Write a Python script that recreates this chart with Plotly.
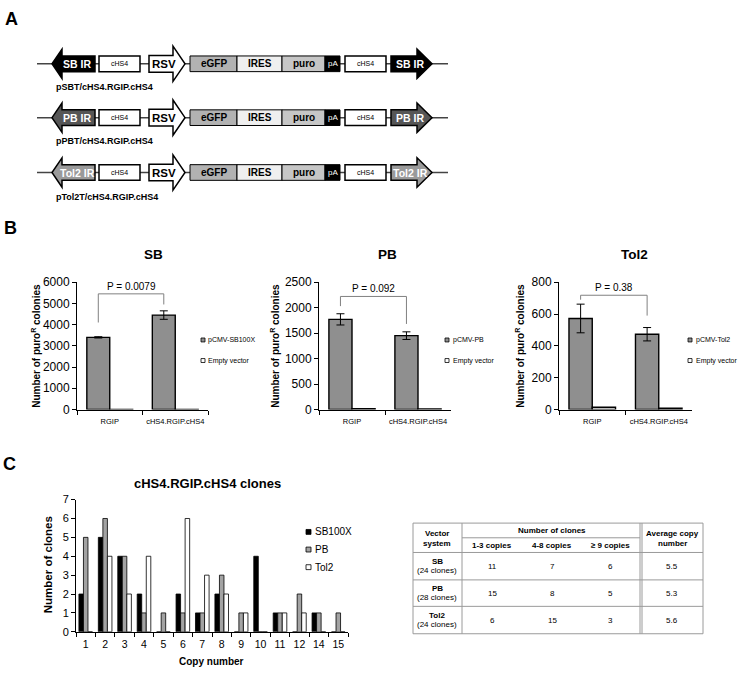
import plotly.graph_objects as go

W, H = 739, 677
FONT = "Liberation Sans, Arial, Helvetica, sans-serif"

# ---------------- data ----------------
panel_letters = ["A", "B", "C"]

# Panel A (construct maps)
construct_names = ["pSBT/cHS4.RGIP.cHS4", "pPBT/cHS4.RGIP.cHS4", "pTol2T/cHS4.RGIP.cHS4"]
ir_labels = ["SB IR", "PB IR", "Tol2 IR"]
insulator_label = "cHS4"
promoter_label = "RSV"
cassette_labels = ["eGFP", "IRES", "puro", "pA"]

# Panel B (colony counts)
b_titles = ["SB", "PB", "Tol2"]
b_categories = ["RGIP", "cHS4.RGIP.cHS4"]
b_transposase_labels = ["pCMV-SB100X", "pCMV-PB", "pCMV-Tol2"]
empty_label = "Empty vector"
sb_transposase = [3400, 4450]
sb_transposase_err = [30, 200]
sb_empty = [8, 5]
pb_transposase = [1770, 1450]
pb_transposase_err = [110, 75]
pb_empty = [15, 10]
tol2_transposase = [572, 473]
tol2_transposase_err = [90, 42]
tol2_empty = [14, 8]
p_values = ["0.0079", "0.092", "0.38"]
b_ymax = [6000, 2500, 800]
b_dtick = [1000, 500, 200]

# Panel C (copy-number distribution)
c_title = "cHS4.RGIP.cHS4 clones"
copy_numbers = ["1", "2", "3", "4", "5", "6", "7", "8", "9", "10", "11", "12", "14", "15"]
c_series_names = ["SB100X", "PB", "Tol2"]
sb100x_clones = [2, 5, 4, 2, 0, 2, 1, 2, 0, 4, 1, 0, 1, 0]
pb_clones = [5, 6, 4, 1, 1, 1, 1, 3, 1, 0, 1, 2, 1, 1]
tol2_clones = [0, 4, 2, 4, 0, 6, 3, 2, 1, 0, 1, 1, 0, 0]

# Panel C table
table_header_left = ["Vector", "system"]
table_header_mid = "Number of clones"
table_header_right = ["Average copy", "number"]
table_systems = ["SB", "PB", "Tol2"]
table_clone_totals = ["(24 clones)", "(28 clones)", "(24 clones)"]
table_bins = ["1-3 copies", "4-8 copies", "≥ 9 copies"]
table_1_3 = [11, 15, 6]
table_4_8 = [7, 8, 15]
table_9plus = [6, 5, 3]
table_avg = [5.5, 5.3, 5.6]

# ---------------- styles / positions ----------------
BARGAP = 0.3
ir_fills = ["#000000", "#565656", "#9a9a9a"]
cassette_fills = ["#b2b2b2", "#efefef", "#c6c6c6", "#000000"]
cassette_text_colors = ["black", "black", "black", "white"]
cassette_x = [(190, 237), (237, 282), (282, 325), (325, 340)]
row_y = [58, 113, 169]
label_y = [82, 137, 194]

b_xdom = [(77, 208), (319, 451), (559, 692)]
b_ytop, b_ybot = 281, 411
b_title_x = [153, 387, 634]
b_ytitle_x = [36, 275, 520]
b_legend_x = [201, 445, 688]
b_legend_y = [340, 361]
# bracket heights (data units): left foot, right foot, top
brackets = [(4100, 4950, 5450), (2030, 1680, 2220), (690, 590, 718)]

c_xdom = (76, 348)
c_ytop, c_ybot = 503, 638
c_colors = ["#000000", "#a3a3a3", "#ffffff"]
c_legend_x = 306
c_legend_y = [536, 554, 572]


def px(x):
    return x / W


def py(y):
    return 1 - y / H


shapes = []
annotations = []


def text(x, y, s, size, color="black", bold=False, xanchor="center", yanchor="middle", angle=0):
    annotations.append(dict(
        x=px(x), y=py(y), xref="paper", yref="paper",
        text=f"<b>{s}</b>" if bold else s, showarrow=False,
        font=dict(size=size, color=color, family=FONT),
        xanchor=xanchor, yanchor=yanchor, textangle=angle))


def rect(x0, x1, y0, y1, fill, line="black", lw=1.5):
    shapes.append(dict(type="rect", xref="paper", yref="paper",
                       x0=px(x0), x1=px(x1), y0=py(y1), y1=py(y0),
                       fillcolor=fill, line=dict(color=line, width=lw)))


def seg(x0, y0, x1, y1, color="black", lw=1):
    shapes.append(dict(type="line", xref="paper", yref="paper",
                       x0=px(x0), x1=px(x1), y0=py(y0), y1=py(y1),
                       line=dict(color=color, width=lw)))


def arrow(base, neck, tip, yc, bh, hh, fill, lw=1.5):
    pts = [(base, yc - bh), (neck, yc - bh), (neck, yc - hh), (tip, yc),
           (neck, yc + hh), (neck, yc + bh), (base, yc + bh)]
    path = "M " + " L ".join(f"{px(a):.5f},{py(b):.5f}" for a, b in pts) + " Z"
    shapes.append(dict(type="path", xref="paper", yref="paper", path=path,
                       fillcolor=fill, line=dict(color="black", width=lw)))


# ---------------- panel letters ----------------
for letter, (lx, ly) in zip(panel_letters, [(11, 12), (10, 226), (9, 467)]):
    text(lx, ly, letter, 18, bold=True)

# ---------------- panel A ----------------
for i in range(3):
    yc = row_y[i]
    seg(37, yc, 448, yc, "#444444", 1.5)
    arrow(95, 62, 52, yc, 8, 15, ir_fills[i])
    text(77, yc, ir_labels[i], 10.5, "white", bold=True)
    rect(99, 140, yc - 8, yc + 8, "white")
    text(119.5, yc, insulator_label, 7)
    arrow(149, 173, 185, yc, 8.5, 18, "white")
    text(164, yc, promoter_label, 11.5, bold=True)
    for (x0, x1), lab, fill, tc in zip(cassette_x, cassette_labels, cassette_fills, cassette_text_colors):
        rect(x0, x1, yc - 8, yc + 8, fill, lw=1)
        text((x0 + x1) / 2, yc, lab, 10 if lab != "pA" else 8, tc, bold=(lab != "pA"))
    rect(345, 386, yc - 8, yc + 8, "white")
    text(365.5, yc, insulator_label, 7)
    arrow(391, 417, 432, yc, 8, 15, ir_fills[i])
    text(410, yc, ir_labels[i], 10.5, "white", bold=True)
    text(54, label_y[i], construct_names[i], 9, bold=True, xanchor="left")

# ---------------- panel B ----------------
fig = go.Figure()
b_sets = [(sb_transposase, sb_transposase_err, sb_empty),
          (pb_transposase, pb_transposase_err, pb_empty),
          (tol2_transposase, tol2_transposase_err, tol2_empty)]
axis_ids = ["", "2", "3"]
layout_axes = {}
pcmv_offset = -(1 - BARGAP) / 4

for k, (vals, errs, empt) in enumerate(b_sets):
    ax = axis_ids[k]
    fig.add_trace(go.Bar(
        x=b_categories, y=vals, name=b_transposase_labels[k],
        error_y=dict(type="data", array=errs, color="black", thickness=1, width=4),
        marker=dict(color="#8f8f8f", line=dict(color="black", width=1.4)),
        xaxis="x" + ax, yaxis="y" + ax, showlegend=False))
    fig.add_trace(go.Bar(
        x=b_categories, y=empt, name=empty_label,
        marker=dict(color="white", line=dict(color="black", width=1.4)),
        xaxis="x" + ax, yaxis="y" + ax, showlegend=False))
    x0, x1 = b_xdom[k]
    layout_axes["xaxis" + ax] = dict(
        domain=[px(x0), px(x1)], anchor="y" + ax, type="category", range=[-0.5, 1.5],
        showline=True, linecolor="black", linewidth=1, ticks="outside", tickson="boundaries",
        ticklen=4, tickcolor="black", tickangle=0, ticklabelstandoff=4,
        tickfont=dict(size=7.5, family=FONT, color="black"),
        showgrid=False, zeroline=False)
    layout_axes["yaxis" + ax] = dict(
        domain=[py(b_ybot), py(b_ytop)], anchor="x" + ax, range=[0, b_ymax[k]], dtick=b_dtick[k],
        showline=True, linecolor="black", linewidth=1, ticks="outside", ticklen=4, tickcolor="black",
        tickfont=dict(size=12, family=FONT, color="black"), showgrid=False, zeroline=False)
    text(b_title_x[k], 253, b_titles[k], 13.5, bold=True)
    text(b_ytitle_x[k], 346, "Number of puro<sup>R</sup> colonies", 10, bold=True, angle=-90)
    lf, rf, top = brackets[k]
    xl, xr = 0 + pcmv_offset, 1 + pcmv_offset
    for (ax0, ay0, ax1, ay1) in [(xl, lf, xl, top), (xl, top, xr, top), (xr, top, xr, rf)]:
        shapes.append(dict(type="line", xref="x" + ax, yref="y" + ax, x0=ax0, y0=ay0, x1=ax1, y1=ay1,
                           line=dict(color="#808080", width=1)))
    annotations.append(dict(x=0.5 + pcmv_offset, y=top, xref="x" + ax, yref="y" + ax,
                            text="P = " + p_values[k], showarrow=False, yanchor="bottom", yshift=0,
                            font=dict(size=10, family=FONT, color="black")))
    lx = b_legend_x[k]
    for lab, fill, ly in zip([b_transposase_labels[k], empty_label], ["#8f8f8f", "white"], b_legend_y):
        rect(lx, lx + 4, ly - 2, ly + 2, fill, lw=0.8)
        text(lx + 5.5, ly, lab, 7, xanchor="left")

# ---------------- panel C ----------------
for name, vals, col in zip(c_series_names, [sb100x_clones, pb_clones, tol2_clones], c_colors):
    fig.add_trace(go.Bar(x=copy_numbers, y=vals, name=name,
                         marker=dict(color=col, line=dict(color="black", width=0.8)),
                         xaxis="x4", yaxis="y4", showlegend=False))
layout_axes["xaxis4"] = dict(
    domain=[px(c_xdom[0]), px(c_xdom[1])], anchor="y4", type="category",
    range=[-0.5, len(copy_numbers) - 0.5],
    showline=True, linecolor="black", linewidth=1, ticks="outside", tickson="boundaries",
    ticklen=4, tickcolor="black", tickangle=0, ticklabelstandoff=3,
    tickfont=dict(size=10.5, family=FONT, color="black"),
    showgrid=False, zeroline=False)
layout_axes["yaxis4"] = dict(
    domain=[py(c_ybot), py(c_ytop)], anchor="x4", range=[0, 7], dtick=1,
    showline=True, linecolor="black", linewidth=1, ticks="outside", ticklen=4, tickcolor="black",
    tickfont=dict(size=11, family=FONT, color="black"), showgrid=False, zeroline=False)
text(207, 487, c_title, 13, bold=True)
text(48, 570, "Number of clones", 11.5, bold=True, angle=-90)
text(212, 668, "Copy number", 10, bold=True)
for name, col, ly in zip(c_series_names, c_colors, c_legend_y):
    rect(c_legend_x, c_legend_x + 5, ly - 2.5, ly + 2.5, col, lw=0.8)
    text(c_legend_x + 6.5, ly, name, 10, xanchor="left")

# ---------------- table ----------------
TX0, TX1, TY0, TY1 = 413, 703, 527, 640
col_sep1, col_sep2 = 462, 641
hdr_mid, hdr_bot = 542, 557
row_bounds = [557, 585, 612, 640]
col_centers = [492, 552, 610, 672]
grid = "#9a9a9a"
rect(TX0, TX1, TY0, TY1, "rgba(0,0,0,0)", line=grid, lw=1)
seg(col_sep1, TY0, col_sep1, TY1, grid, 1)
seg(col_sep2 - 1, TY0, col_sep2 - 1, TY1, grid, 1)
seg(col_sep2 + 1, TY0, col_sep2 + 1, TY1, grid, 1)
seg(col_sep1, hdr_mid, col_sep2 - 1, hdr_mid, grid, 1)
for yb in row_bounds[:-1]:
    seg(TX0, yb, TX1, yb, grid, 1)
for line_txt, ly in zip(table_header_left, [537.5, 548]):
    text((TX0 + col_sep1) / 2, ly, line_txt, 8, bold=True)
text((col_sep1 + col_sep2) / 2, 535, table_header_mid, 8, bold=True)
for cx, lab in zip(col_centers[:3], table_bins):
    text(cx, 550, lab, 8, bold=True)
for line_txt, ly in zip(table_header_right, [537.5, 548]):
    text(col_centers[3], ly, line_txt, 8, bold=True)
for r in range(3):
    yc = (row_bounds[r] + row_bounds[r + 1]) / 2
    text((TX0 + col_sep1) / 2, yc - 5, table_systems[r], 8, bold=True)
    text((TX0 + col_sep1) / 2, yc + 4.5, table_clone_totals[r], 8)
    for cx, v in zip(col_centers, [table_1_3[r], table_4_8[r], table_9plus[r], table_avg[r]]):
        text(cx, yc, str(v), 8)

fig.update_layout(
    width=W, height=H, margin=dict(l=0, r=0, t=0, b=0),
    paper_bgcolor="white", plot_bgcolor="white",
    barmode="group", bargap=BARGAP, bargroupgap=0,
    showlegend=False, shapes=shapes, annotations=annotations,
    font=dict(family=FONT, color="black"),
    **layout_axes)

fig.write_html("out.html", config={"displayModeBar": False},
               post_script="document.body.style.margin='0';document.body.style.overflow='hidden';")
